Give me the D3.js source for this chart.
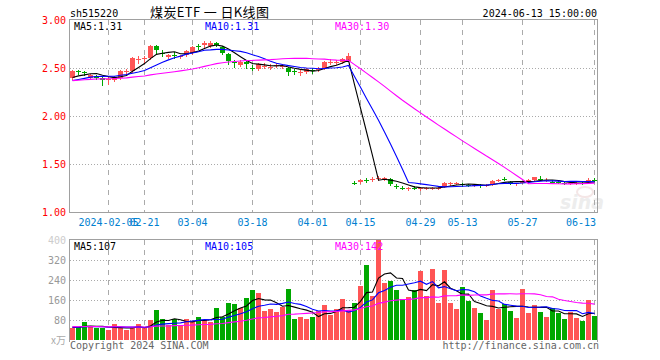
<!DOCTYPE html>
<html><head><meta charset="utf-8">
<script src="https://cdn.jsdelivr.net/npm/d3@7"></script>
<style>body{margin:0;background:#fff}svg{display:block}</style>
</head><body><svg id="c" width="660" height="360"></svg>
<script>
const dates=["2024-01-26","2024-01-29","2024-01-30","2024-01-31","2024-02-01","2024-02-02","2024-02-05","2024-02-06","2024-02-07","2024-02-08","2024-02-19","2024-02-20","2024-02-21","2024-02-22","2024-02-23","2024-02-26","2024-02-27","2024-02-28","2024-02-29","2024-03-01","2024-03-04","2024-03-05","2024-03-06","2024-03-07","2024-03-08","2024-03-11","2024-03-12","2024-03-13","2024-03-14","2024-03-15","2024-03-18","2024-03-19","2024-03-20","2024-03-21","2024-03-22","2024-03-25","2024-03-26","2024-03-27","2024-03-28","2024-03-29","2024-04-01","2024-04-02","2024-04-03","2024-04-08","2024-04-09","2024-04-10","2024-04-11","2024-04-12","2024-04-15","2024-04-16","2024-04-17","2024-04-18","2024-04-19","2024-04-22","2024-04-23","2024-04-24","2024-04-25","2024-04-26","2024-04-29","2024-04-30","2024-05-06","2024-05-07","2024-05-08","2024-05-09","2024-05-10","2024-05-13","2024-05-14","2024-05-15","2024-05-16","2024-05-17","2024-05-20","2024-05-21","2024-05-22","2024-05-23","2024-05-24","2024-05-27","2024-05-28","2024-05-29","2024-05-30","2024-05-31","2024-06-03","2024-06-04","2024-06-05","2024-06-06","2024-06-07","2024-06-11","2024-06-12","2024-06-13"];
const open=[2.40,2.465,2.455,2.40,2.42,2.40,2.38,2.38,2.40,2.465,
2.47,2.58,2.59,2.60,2.73,2.66,2.61,2.635,2.61,2.64,
2.66,2.725,2.735,2.73,2.76,2.72,2.65,2.565,2.53,2.56,
2.505,2.49,2.52,2.51,2.525,2.515,2.505,2.465,2.455,2.46,
2.475,2.48,2.50,2.555,2.555,2.56,2.575,1.305,1.31,1.33,
1.335,1.345,1.345,1.345,1.275,1.255,1.245,1.255,1.24,1.245,
1.245,1.25,1.265,1.295,1.295,1.29,1.285,1.275,1.28,1.275,
1.29,1.328,1.345,1.31,1.295,1.30,1.31,1.33,1.345,1.325,
1.315,1.31,1.305,1.30,1.298,1.305,1.315,1.335];
const high=[2.48,2.48,2.47,2.44,2.43,2.41,2.42,2.42,2.48,2.49,
2.61,2.62,2.63,2.74,2.74,2.69,2.65,2.67,2.64,2.69,
2.73,2.75,2.78,2.78,2.77,2.73,2.66,2.58,2.58,2.57,
2.53,2.55,2.55,2.54,2.55,2.54,2.51,2.49,2.48,2.50,
2.50,2.51,2.57,2.59,2.58,2.60,2.66,1.32,1.345,1.35,
1.36,1.37,1.36,1.35,1.29,1.27,1.26,1.27,1.26,1.26,
1.26,1.27,1.31,1.31,1.31,1.30,1.29,1.29,1.29,1.29,
1.33,1.34,1.36,1.32,1.30,1.32,1.34,1.365,1.37,1.35,
1.33,1.32,1.31,1.31,1.31,1.31,1.35,1.35];
const low=[2.39,2.44,2.43,2.39,2.39,2.32,2.33,2.36,2.39,2.44,
2.46,2.55,2.56,2.59,2.66,2.62,2.60,2.60,2.60,2.63,
2.65,2.70,2.72,2.72,2.73,2.65,2.54,2.51,2.52,2.50,
2.48,2.48,2.50,2.49,2.51,2.50,2.43,2.44,2.43,2.45,
2.45,2.47,2.49,2.54,2.54,2.55,2.57,1.29,1.30,1.31,
1.32,1.33,1.33,1.28,1.25,1.24,1.23,1.24,1.23,1.24,
1.235,1.24,1.26,1.28,1.29,1.27,1.27,1.27,1.265,1.27,
1.285,1.32,1.33,1.29,1.28,1.30,1.305,1.325,1.34,1.325,
1.30,1.30,1.29,1.295,1.29,1.29,1.315,1.32];
const close=[2.47,2.46,2.45,2.43,2.40,2.38,2.39,2.40,2.47,2.47,
2.60,2.59,2.60,2.73,2.69,2.655,2.64,2.63,2.63,2.68,
2.72,2.72,2.76,2.76,2.74,2.66,2.57,2.56,2.56,2.54,
2.50,2.54,2.525,2.515,2.53,2.52,2.46,2.46,2.46,2.49,
2.47,2.49,2.56,2.56,2.56,2.59,2.63,1.30,1.335,1.325,
1.345,1.35,1.35,1.29,1.27,1.25,1.25,1.25,1.25,1.25,
1.25,1.255,1.30,1.30,1.30,1.28,1.28,1.28,1.275,1.28,
1.32,1.33,1.34,1.30,1.30,1.31,1.33,1.36,1.34,1.33,
1.305,1.305,1.30,1.305,1.30,1.30,1.335,1.32];
const volume=[48,53,72,53,48,48,40,64,48,40,
48,64,48,79,120,84,59,83,59,84,
77,92,80,72,128,93,148,144,128,168,
200,189,117,124,113,133,204,84,92,84,
92,116,140,100,124,164,120,148,216,300,
176,400,229,236,200,164,172,200,276,176,
284,148,280,148,124,212,156,128,108,80,
200,124,144,116,88,204,108,140,112,92,
128,108,84,112,90,78,160,95];
// estimated closes / volumes of the 29 sessions before the visible window (for moving averages)
const prevCloses=[2.32,2.30,2.31,2.29,2.33,2.35,2.34,2.36,2.38,2.37,2.40,2.41,2.39,2.42,2.44,2.40,2.38,2.36,2.39,2.41,2.35,2.33,2.30,2.34,2.36,2.38,2.40,2.37,2.39];
const prevVolumes=[60,55,48,52,70,65,50,45,58,62,55,48,50,53,60,57,49,46,52,55,58,50,47,52,56,54,50,49,52];
const priceTicks=[3.00,2.50,2.00,1.50,1.00];
const volTicks=[400,320,240,160,80];
const tickDates=["2024-02-05","2024-02-21","2024-03-04","2024-03-18","2024-04-01","2024-04-15","2024-04-29","2024-05-13","2024-05-27","2024-06-13"];
const tickLabels=["2024-02-05","02-21","03-04","03-18","04-01","04-15","04-29","05-13","05-27","06-13"];
const maPeriods=[5,10,30];
const maColors=["#000000","#0000ff","#ff00ff"];
const priceLegend=["MA5:1.31","MA10:1.31","MA30:1.30"];
const volLegend=["MA5:107","MA10:105","MA30:142"];

const RED="#ff5555", GREEN="#00a800", GRID="#aaaaaa", FRAME="#a0a0a0";
const MONO="'DejaVu Sans Mono', 'Liberation Mono', monospace";
const svg=d3.select("#c");
const L=69, R=597;
const x=d3.scaleBand().domain(dates).range([L,R]).padding(0);
const yP=d3.scaleLinear().domain([1,3]).range([212,20]);
const yV=d3.scaleLinear().domain([0,400]).range([340,240]);
const cx=d=>x(d)+3.5;

function movingAvg(prev, vals, n){
  const full=prev.concat(vals);
  return vals.map((v,i)=>{const e=i+prev.length; return d3.mean(full.slice(e-n+1,e+1));});
}

// header
svg.append("text").attr("x",70).attr("y",17).attr("font-family",MONO).attr("font-size",10).attr("fill","#000").text("sh515220");
svg.append("text").attr("x",150).attr("y",17).attr("font-family","'Noto Sans CJK SC', sans-serif").attr("font-size",13).attr("fill","#000").attr("textLength",119).attr("lengthAdjust","spacing").attr("xml:space","preserve").style("white-space","pre").text("煤炭ETF 一 日K线图");
svg.append("text").attr("x",597).attr("y",17).attr("text-anchor","end").attr("font-family",MONO).attr("font-size",10).attr("fill","#000").text("2024-06-13 15:00:00");

// watermark
const wm=svg.append("g").attr("opacity",0.45);
wm.append("text").attr("x",560).attr("y",209).attr("font-family","'DejaVu Sans', sans-serif").attr("font-style","italic").attr("font-weight","bold").attr("font-size",19).attr("fill","#d8d8d8").text("sina");
wm.append("ellipse").attr("cx",585).attr("cy",192).attr("rx",8).attr("ry",5).attr("fill","none").attr("stroke","#e8c8c8").attr("stroke-width",2);

// grids
const g=svg.append("g").attr("shape-rendering","crispEdges");
priceTicks.slice(1,4).forEach(v=>{
  g.append("line").attr("x1",70).attr("x2",R).attr("y1",Math.round(yP(v))+0.5).attr("y2",Math.round(yP(v))+0.5).attr("stroke",GRID).attr("stroke-dasharray","1,2");
});
volTicks.slice(1).forEach(v=>{
  g.append("line").attr("x1",70).attr("x2",R).attr("y1",yV(v)+0.5).attr("y2",yV(v)+0.5).attr("stroke",GRID).attr("stroke-dasharray","1,2");
});
tickDates.forEach(d=>{
  g.append("line").attr("x1",cx(d)).attr("x2",cx(d)).attr("y1",20).attr("y2",212).attr("stroke",GRID).attr("stroke-dasharray","5,5");
  g.append("line").attr("x1",cx(d)).attr("x2",cx(d)).attr("y1",240).attr("y2",340).attr("stroke",GRID).attr("stroke-dasharray","5,5");
});

// frames
g.append("rect").attr("x",69.5).attr("y",19.5).attr("width",R-69.5).attr("height",193).attr("fill","none").attr("stroke",FRAME);
g.append("path").attr("d",`M69.5,342V239.5H${R+0.5}V342`).attr("fill","none").attr("stroke",FRAME);

// axis labels
priceTicks.forEach(v=>{
  svg.append("text").attr("x",66).attr("y",yP(v)+4).attr("text-anchor","end").attr("font-family",MONO).attr("font-size",10).attr("fill","#ff0000").text(v.toFixed(2));
});
volTicks.forEach(v=>{
  svg.append("text").attr("x",66).attr("y",yV(v)+4).attr("text-anchor","end").attr("font-family",MONO).attr("font-size",10).attr("fill",v===400?"#cccccc":"#999999").text(v);
});
svg.append("text").attr("x",66).attr("y",344).attr("text-anchor","end").attr("font-family","'Noto Sans CJK SC', sans-serif").attr("font-size",10).attr("fill","#aaaaaa").text("x万");
tickDates.forEach((d,k)=>{
  const last=k===tickDates.length-1;
  svg.append("text").attr("x",last?596:cx(d)).attr("y",226).attr("text-anchor",last?"end":"middle").attr("font-family",MONO).attr("font-size",10).attr("fill","#0080d0").text(tickLabels[k]);
});

// candles
const up=i=>close[i]>=open[i];
const cg=svg.append("g").attr("shape-rendering","crispEdges");
dates.forEach((d,i)=>{
  const col=up(i)?RED:GREEN;
  cg.append("line").attr("x1",cx(d)).attr("x2",cx(d)).attr("y1",Math.round(yP(high[i]))).attr("y2",Math.round(yP(low[i]))+1).attr("stroke",col);
  const t=Math.round(yP(Math.max(open[i],close[i]))), b=Math.round(yP(Math.min(open[i],close[i])));
  cg.append("rect").attr("x",x(d)+1).attr("y",t).attr("width",5).attr("height",Math.max(1,b-t)).attr("fill",col);
  cg.append("rect").attr("x",x(d)+1).attr("y",Math.round(yV(Math.min(volume[i],400)))).attr("width",5).attr("height",340-Math.round(yV(Math.min(volume[i],400)))).attr("fill",col);
});

// moving averages
maPeriods.forEach((n,k)=>{
  const mp=movingAvg(prevCloses,close,n);
  const mv=movingAvg(prevVolumes,volume,n);
  svg.append("path").attr("d",d3.line().x((v,i)=>cx(dates[i])).y(v=>yP(v))(mp)).attr("fill","none").attr("stroke",maColors[k]).attr("stroke-width",1.1);
  svg.append("path").attr("d",d3.line().x((v,i)=>cx(dates[i])).y(v=>yV(v))(mv)).attr("fill","none").attr("stroke",maColors[k]).attr("stroke-width",1.1);
});

// legends
const legX=[74,205,335];
priceLegend.forEach((t,k)=>svg.append("text").attr("x",legX[k]).attr("y",30).attr("font-family",MONO).attr("font-size",10).attr("fill",maColors[k]).text(t));
volLegend.forEach((t,k)=>svg.append("text").attr("x",legX[k]).attr("y",250).attr("font-family",MONO).attr("font-size",10).attr("fill",maColors[k]).text(t));

// footer
svg.append("text").attr("x",70).attr("y",349).attr("font-family",MONO).attr("font-size",10).attr("fill","#666666").text("Copyright 2024 SINA.COM");
svg.append("text").attr("x",599).attr("y",349).attr("text-anchor","end").attr("font-family",MONO).attr("font-size",10).attr("fill","#666666").text("http://finance.sina.com.cn");
</script></body></html>
